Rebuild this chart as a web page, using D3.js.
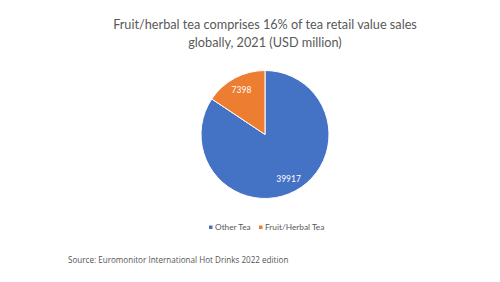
<!DOCTYPE html>
<html><head><meta charset="utf-8">
<script src="https://cdn.jsdelivr.net/npm/d3@7"></script>
<style>body{margin:0;background:#fff}</style>
</head><body>
<script>
const categories = ["Other Tea", "Fruit/Herbal Tea"];
const values = [39917, 7398];
const colors = ["#4472C4", "#ED7D31"];
const titleLines = ["Fruit/herbal tea comprises 16% of tea retail value sales", "globally, 2021 (USD million)"];
const sourceText = "Source: Euromonitor International Hot Drinks 2022 edition";

const W = 500, H = 282;
const svg = d3.select("body").append("svg").attr("width", W).attr("height", H);
svg.append("rect").attr("width", W).attr("height", H).attr("fill", "#fff");

const cx = 265, cy = 134.5, r = 64;
svg.selectAll("text.title").data(titleLines).join("text")
  .attr("x", cx).attr("y", (d, i) => 29 + i * 18)
  .attr("text-anchor", "middle")
  .attr("font-family", "Lato, 'Open Sans', sans-serif")
  .attr("font-size", 12.7).attr("fill", "#595959").text(d => d);

const data = categories.map((c, i) => ({c, v: values[i], col: colors[i]}));
const pie = d3.pie().value(d => d.v).sort(null);
const arc = d3.arc().innerRadius(0).outerRadius(r);
const labelArc = d3.arc().innerRadius(r * 0.78).outerRadius(r * 0.78);
const g = svg.append("g").attr("transform", `translate(${cx},${cy})`);
const arcs = pie(data);
g.selectAll("path").data(arcs).join("path")
  .attr("d", arc).attr("fill", d => d.data.col)
  .attr("stroke", "#fff").attr("stroke-width", 1);
g.selectAll("text").data(arcs).join("text")
  .attr("transform", d => `translate(${labelArc.centroid(d)})`)
  .attr("text-anchor", "middle").attr("dy", "0.35em")
  .attr("font-family", "Lato, 'Open Sans', sans-serif")
  .attr("font-size", 8.5).attr("fill", "#fff").text(d => d.data.v);

// legend
const legX = [209, 259];
const lg = svg.append("g");
data.forEach((d, i) => {
  lg.append("rect").attr("x", legX[i]).attr("y", 225.5).attr("width", 3.5).attr("height", 3.5).attr("fill", d.col);
  lg.append("text").attr("x", legX[i] + 6).attr("y", 230)
    .attr("font-family", "Lato, 'Open Sans', sans-serif")
    .attr("font-size", 8.3).attr("fill", "#595959").text(d.c);
});

svg.append("text").attr("x", 68).attr("y", 263)
  .attr("font-family", "'Open Sans', sans-serif")
  .attr("font-size", 8.1).attr("fill", "#555").text(sourceText);
</script>
</body></html>
